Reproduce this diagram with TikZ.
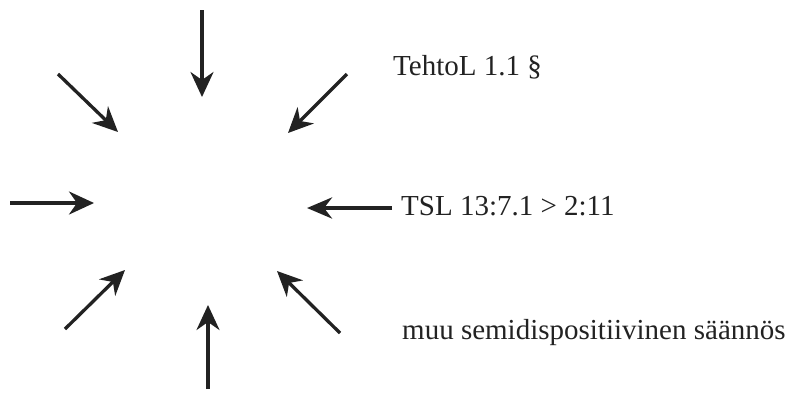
\documentclass[tikz,border=0pt]{standalone}
\usepackage{fontspec}
\setmainfont{Liberation Serif}
\usetikzlibrary{arrows.meta}
\definecolor{ink}{HTML}{222222}
\begin{document}
\begin{tikzpicture}[x=1pt,y=-1pt,
  arr/.style={draw=ink,line width=3.3pt,-{Stealth[length=25pt,width=23pt,inset=8pt]}},
  thickarr/.style={arr,line width=4.5pt,-{Stealth[length=25pt,width=21pt,inset=8pt]}},
  lbl/.style={anchor=base west,inner sep=0pt,text=ink,font=\fontsize{29}{34}\selectfont}]
\useasboundingbox (0,0) rectangle (789,392);
% arrow ends
\coordinate (t1) at (202,10);   \coordinate (h1) at (202,97);
\coordinate (t2) at (58,74);    \coordinate (h2) at (118,132);
\coordinate (t3) at (10,203);   \coordinate (h3) at (94,203);
\coordinate (t4) at (347,74);   \coordinate (h4) at (288,133);
\coordinate (t5) at (392,208);  \coordinate (h5) at (307,208);
\coordinate (t6) at (340,333);  \coordinate (h6) at (277,271);
\coordinate (t7) at (208,389);  \coordinate (h7) at (208,305);
\coordinate (t8) at (65,329);   \coordinate (h8) at (125,270);
\foreach \i in {1,2,3,4,6,7,8} {\draw[arr] (t\i) -- (h\i);}
\draw[thickarr] (t5) -- (h5);
\node[lbl] (tehto) at (393,75) {TehtoL 1.1 §};
\node[lbl] (tsl) at (401,215) {TSL 13:7.1 > 2:11};
\node[lbl] (muu) at (402,339) {muu semidispositiivinen säännös};
\end{tikzpicture}
\end{document}
